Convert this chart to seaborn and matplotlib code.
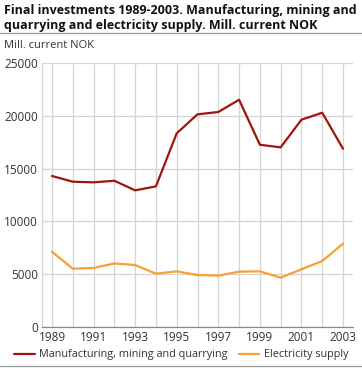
import pandas as pd
import matplotlib.pyplot as plt
import seaborn as sns
from matplotlib.lines import Line2D

years = list(range(1989, 2004))
manufacturing = [14300, 13760, 13700, 13850, 12940, 13320, 18340, 20140,
                 20360, 21520, 17260, 17010, 19630, 20290, 16880]
electricity = [7130, 5520, 5590, 6020, 5870, 5050, 5270, 4920,
               4860, 5240, 5270, 4670, 5460, 6250, 7890]
series_names = ['Manufacturing, mining and quarrying', 'Electricity supply']
colors = ['#a0140f', '#f7a035']

df = pd.DataFrame({'year': years,
                   series_names[0]: manufacturing,
                   series_names[1]: electricity})
long = df.melt(id_vars='year', var_name='series', value_name='value')

sns.set_style('white')
plt.rcParams['font.family'] = ['Open Sans', 'DejaVu Sans']

fig = plt.figure(figsize=(3.62, 3.68), dpi=100)
ax = fig.add_axes([42/362, 41/368, 311/362, 264/368])

sns.lineplot(data=long, x='year', y='value', hue='series',
             palette=colors, linewidth=1.6, ax=ax, legend=False)

ax.set_xlim(1988.52, 2003.48)
ax.set_ylim(0, 25000)
ax.set_xticks(years)
ax.set_xticklabels([str(y) if (y - 1989) % 2 == 0 else '' for y in years])
ax.set_yticks([0, 5000, 10000, 15000, 20000, 25000])
ax.grid(True, color='#d4d4d4', linewidth=0.9)
ax.set_axisbelow(True)
for s in ['top', 'right']:
    ax.spines[s].set_visible(False)
ax.spines['left'].set_color('#d4d4d4')
ax.spines['left'].set_linewidth(0.9)
ax.spines['bottom'].set_color('#888888')
ax.spines['bottom'].set_linewidth(0.9)
ax.tick_params(axis='both', length=0, labelsize=8.5, colors='#333333', pad=3)
ax.set_xlabel('')
ax.set_ylabel('')

fig.text(4/362, 1 - 4/368, 'Final investments 1989-2003. Manufacturing, mining and\n'
         'quarrying and electricity supply. Mill. current NOK',
         ha='left', va='top', fontsize=9.0, fontweight='bold', color='#111111',
         linespacing=1.2)
fig.add_artist(Line2D([0, 1], [1 - 33/368, 1 - 33/368], color='#999999', linewidth=0.9))
fig.add_artist(Line2D([0, 1], [1 - 366/368, 1 - 366/368], color='#999999', linewidth=0.9))
fig.text(4/362, 1 - 45/368, 'Mill. current NOK', ha='left', va='center',
         fontsize=8, color='#333333')

handles = [Line2D([], [], color=c, linewidth=1.6) for c in colors]
fig.legend(handles, series_names, loc='center left', bbox_to_anchor=(14/362, 1 - 355/368),
           ncol=2, frameon=False, fontsize=7.8, handlelength=1.9, handletextpad=0.45,
           columnspacing=1.0, borderaxespad=0, borderpad=0, labelcolor='#333333')

fig.savefig('out.png', dpi=100)
